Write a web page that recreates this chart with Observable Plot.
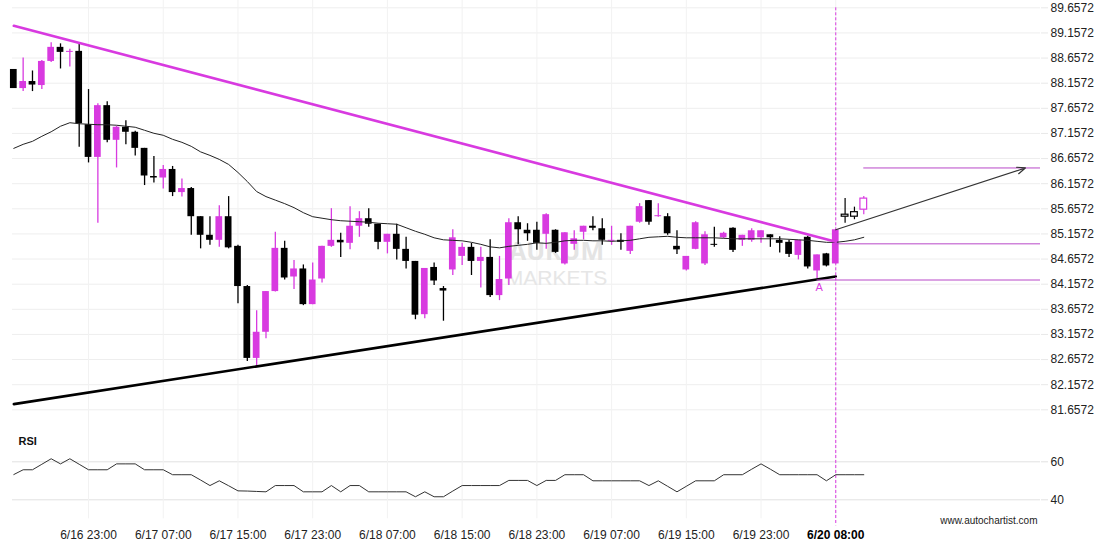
<!DOCTYPE html>
<html>
<head>
<meta charset="utf-8">
<script src="https://cdn.jsdelivr.net/npm/d3@7"></script>
<script src="https://cdn.jsdelivr.net/npm/@observablehq/plot@0.6"></script>
<style>
  html, body { margin: 0; padding: 0; background: #fff; }
  #chart { width: 1110px; height: 550px; position: relative; }
  #chart svg { display: block; }
</style>
</head>
<body>
<div id="chart"></div>
<script>
// ---------- DATA ----------
const opens = [88.43,88.05,88.19,88.11,88.59,88.87,88.77,88.79,87.33,86.68,
  87.71,87.02,87.28,87.18,86.86,86.30,86.27,86.44,85.98,86.06,
  85.50,85.13,85.03,85.50,84.91,84.11,82.68,83.20,84.01,84.87,
  84.30,84.46,83.75,84.26,84.91,85.03,84.97,85.31,85.46,85.35,
  84.99,85.15,84.85,84.61,83.55,84.49,84.07,84.44,84.71,84.89,
  84.61,84.69,83.93,84.26,85.38,85.23,85.23,85.15,85.23,84.56,
  84.95,85.19,85.31,85.26,85.01,85.03,84.81,85.39,85.82,85.50,
  85.50,84.91,84.44,84.85,84.56,84.95,85.08,85.27,85.03,85.03,
  85.08,85.14,85.03,84.99,84.73,85.09,84.42,84.76,84.56,85.54,
  85.59,85.64];
const closes = [88.05,88.19,88.12,88.59,88.87,88.77,88.79,87.35,86.68,87.71,
  87.02,87.28,87.18,86.86,86.31,86.27,86.44,85.98,86.06,85.50,
  85.13,85.03,85.50,84.88,84.11,82.68,83.20,84.01,84.87,84.28,
  84.46,83.75,84.24,84.91,85.03,84.98,85.31,85.46,85.35,84.99,
  85.15,84.85,84.61,83.54,84.47,84.22,84.02,85.08,84.89,84.61,
  84.69,83.93,84.25,85.38,85.24,85.16,84.97,85.54,84.79,85.18,
  85.06,85.31,85.27,85.03,85.03,84.99,85.31,85.70,85.39,85.52,
  85.16,84.84,84.71,85.38,85.14,84.93,85.17,84.83,85.13,85.22,
  85.22,85.08,84.97,84.75,85.03,84.50,84.74,84.52,85.24,85.50,
  85.50,85.86];
const highs = [88.43,88.66,88.40,88.61,88.96,88.94,88.83,88.96,88.03,87.75,
  87.79,87.30,87.41,87.20,86.86,86.70,86.52,86.50,86.25,86.08,
  85.50,85.50,85.72,85.90,84.93,84.13,83.63,84.01,85.19,85.01,
  84.63,84.54,84.58,84.91,85.66,85.17,85.70,85.60,85.66,85.35,
  85.15,85.35,85.09,84.61,84.47,84.58,84.11,85.24,84.97,84.97,
  84.89,85.04,84.71,85.46,85.50,85.36,85.39,85.56,85.24,85.18,
  85.22,85.31,85.50,85.46,85.31,85.16,85.31,85.76,85.82,85.76,
  85.56,85.22,84.71,85.40,85.20,85.29,85.19,85.28,85.13,85.26,
  85.22,85.14,85.10,85.03,85.03,85.11,84.74,84.77,85.24,85.86,
  85.69,85.90];
const lows = [88.05,87.99,87.99,88.03,88.57,88.44,88.48,86.88,86.57,85.37,
  86.97,86.47,86.93,86.71,86.12,86.17,86.05,85.90,85.89,85.13,
  84.86,84.93,84.89,84.86,83.77,82.62,82.51,83.07,84.00,84.24,
  84.05,83.73,83.75,84.18,84.89,84.69,84.84,85.09,85.29,84.84,
  84.76,84.64,84.46,83.45,83.47,84.13,83.42,84.33,84.53,84.33,
  84.08,83.89,83.83,84.13,84.94,85.01,84.83,84.85,84.77,84.54,
  84.83,85.04,85.22,84.93,84.93,84.83,84.75,85.37,85.33,85.49,
  85.13,84.75,84.42,84.84,84.53,84.89,85.06,84.79,84.91,84.99,
  84.97,84.89,84.78,84.69,84.64,84.46,84.26,84.50,84.56,85.37,
  85.44,85.54];
const movingAvg = [86.86,86.94,87.00,87.10,87.19,87.30,87.37,87.35,87.34,87.33,
  87.33,87.32,87.30,87.28,87.22,87.16,87.12,87.04,86.98,86.90,
  86.79,86.72,86.64,86.54,86.38,86.20,86.00,85.90,85.83,85.76,
  85.68,85.58,85.50,85.47,85.44,85.42,85.41,85.40,85.39,85.37,
  85.36,85.35,85.28,85.21,85.15,85.08,85.04,85.03,85.02,84.99,
  84.95,84.90,84.88,84.91,84.93,84.95,84.98,84.97,84.99,85.02,
  85.03,85.03,85.02,85.02,85.01,85.02,85.03,85.06,85.09,85.10,
  85.11,85.09,85.08,85.08,85.08,85.08,85.07,85.06,85.06,85.06,
  85.06,85.06,85.06,85.05,85.04,85.03,85.01,84.99,84.99,85.01,
  85.04,85.09];
const rsiValues = [53.3,55.8,55.8,58.7,61.6,58.9,61.6,58.7,55.8,55.8,
  55.8,58.9,58.9,58.9,55.8,55.8,55.8,53.2,53.2,53.2,
  50.4,47.5,50.0,47.4,44.7,44.6,44.4,44.2,47.5,47.5,
  47.5,44.2,44.2,44.2,47.5,44.2,47.5,47.5,44.2,44.2,
  44.2,44.2,44.2,41.6,44.2,41.6,41.6,44.6,47.5,47.5,
  47.5,47.5,47.5,50.2,50.2,50.2,47.5,50.2,50.2,53.2,
  53.2,53.2,50.0,50.0,50.0,50.0,50.0,50.0,47.5,50.0,
  47.1,44.2,47.1,50.0,50.0,50.0,53.2,53.2,53.2,56.1,
  58.9,56.1,53.2,53.2,53.2,53.2,53.2,50.0,53.2,53.2,
  53.2,53.2];

const tickIdx    = [8, 16, 24, 32, 40, 48, 56, 64, 72, 80, 88];
const tickLabels = ["6/16 23:00","6/17 07:00","6/17 15:00","6/17 23:00","6/18 07:00",
  "6/18 15:00","6/18 23:00","6/19 07:00","6/19 15:00","6/19 23:00","6/20 08:00"];
const priceTicks = [81.6572,82.1572,82.6572,83.1572,83.6572,84.1572,84.6572,85.1572,
  85.6572,86.1572,86.6572,87.1572,87.6572,88.1572,88.6572,89.1572,89.6572];
const rsiTicks = [40, 60];

const breakoutIdx = 88;          // candle where the pattern completes
const pointAIdx = 86;            // "A" point on support
const resistanceLine = [{i: 0, v: 89.30}, {i: 88, v: 85.00}];
const supportLine    = [{i: 0, v: 81.77}, {i: 88, v: 84.31}];
const levelBreak  = [84.96];
const levelLow    = [84.24];
const levelTarget = [86.47];
const forecastArrow = [{i1: 88, v1: 85.24, i2: 108.3, v2: 86.47}];
const targetStartIdx = 91;

// ---------- BUILD ----------
const MAG = "#d83ae0";
const LEVEL = "#b848c8";
const FONT = "'Liberation Sans', Arial, Helvetica, sans-serif";
const xDomain = [-0.14, 109.92];

const candles = opens.map((o, i) => ({
  i, open: o, close: closes[i], high: highs[i], low: lows[i],
  up: closes[i] > o, after: i > breakoutIdx
}));
const solidUp = candles.filter(d => !d.after && d.up);
const solidDown = candles.filter(d => !d.after && !d.up);
const hollowUp = candles.filter(d => d.after && d.up);
const hollowDown = candles.filter(d => d.after && !d.up);
const maData = movingAvg.map((v, i) => ({i, v}));
const rsiData = rsiValues.map((v, i) => ({i, v}));
const hw = 0.36;
const bx1 = d => d.i - hw, bx2 = d => d.i + hw;

const main = Plot.plot({
  width: 1110, height: 420,
  marginLeft: 12, marginRight: 70, marginTop: 7.3, marginBottom: 10.7,
  x: {type: "linear", domain: xDomain, axis: null},
  y: {domain: [81.6572, 89.6572], axis: null},
  style: {fontFamily: FONT, fontSize: "12px", color: "#222", background: "#fff", overflow: "visible"},
  marks: [
    Plot.gridY(priceTicks, {stroke: "#eeeeee", strokeOpacity: 1}),
    Plot.ruleX(tickIdx, {stroke: "#f2f2f2", insetTop: -7.3, insetBottom: -10.7}),
    Plot.axisY(priceTicks, {anchor: "right", label: null, tickSize: 7, tickPadding: 3, stroke: "#e8e8e8",
      fill: "#222", fontSize: 12, tickFormat: d => d.toFixed(4)}),
    Plot.text(["AURUM"], {frameAnchor: "middle", dx: 30, dy: 43, fontSize: 25, fontWeight: "bold",
      fill: "#e4e4e4", fontFamily: "'Open Sans', " + FONT}),
    Plot.text(["MARKETS"], {frameAnchor: "middle", dx: 30, dy: 69, fontSize: 21,
      fill: "#e6e6e6", fontFamily: "'Liberation Sans Narrow', " + FONT}),
    // wicks
    Plot.ruleX(solidUp, {x: "i", y1: "low", y2: "high", stroke: MAG, strokeWidth: 1.3}),
    Plot.ruleX(solidDown, {x: "i", y1: "low", y2: "high", stroke: "#000", strokeWidth: 1.3}),
    Plot.ruleX(hollowUp, {x: "i", y1: "low", y2: "high", stroke: MAG, strokeWidth: 1.2}),
    Plot.ruleX(hollowDown, {x: "i", y1: "low", y2: "high", stroke: "#000", strokeWidth: 1.2}),
    // bodies
    Plot.rect(solidUp, {x1: bx1, x2: bx2, y1: "open", y2: "close", fill: MAG}),
    Plot.rect(solidDown, {x1: bx1, x2: bx2, y1: "open", y2: "close", fill: "#000"}),
    Plot.rect(hollowUp, {x1: bx1, x2: bx2, y1: "open", y2: "close", fill: "#fff", stroke: MAG, strokeWidth: 1.2}),
    Plot.rect(hollowDown, {x1: bx1, x2: bx2, y1: "open", y2: "close", fill: "#fff", stroke: "#000", strokeWidth: 1.2}),
    // moving average
    Plot.line(maData, {x: "i", y: "v", stroke: "#222", strokeWidth: 1}),
    // trend lines
    Plot.line(resistanceLine, {x: "i", y: "v", stroke: MAG, strokeWidth: 2.6}),
    Plot.line(supportLine, {x: "i", y: "v", stroke: "#000", strokeWidth: 2.6}),
    // levels
    Plot.ruleY(levelBreak, {x1: breakoutIdx, x2: xDomain[1], stroke: LEVEL, strokeWidth: 1}),
    Plot.ruleY(levelLow, {x1: pointAIdx, x2: xDomain[1], stroke: LEVEL, strokeWidth: 1}),
    Plot.ruleY(levelTarget, {x1: targetStartIdx, x2: xDomain[1], stroke: LEVEL, strokeWidth: 1}),
    // breakout marker
    Plot.ruleX([breakoutIdx], {stroke: MAG, strokeWidth: 1, strokeDasharray: "3,2", insetBottom: -10.7}),
    Plot.arrow(forecastArrow, {x1: "i1", y1: "v1", x2: "i2", y2: "v2", stroke: "#333",
      strokeWidth: 1.2, headLength: 11, headAngle: 45}),
    Plot.text([candles[pointAIdx]], {x: "i", y: "low", text: () => "A", dy: 8, dx: 2,
      fill: MAG, fontSize: 11})
  ]
});

const rsi = Plot.plot({
  width: 1110, height: 130,
  marginLeft: 12, marginRight: 70, marginTop: 22.3, marginBottom: 31.7,
  x: {type: "linear", domain: xDomain, axis: null},
  y: {domain: [30, 70], axis: null},
  style: {fontFamily: FONT, fontSize: "12px", color: "#222", background: "#fff", overflow: "visible"},
  marks: [
    Plot.gridY(rsiTicks, {stroke: "#e2e2e2", strokeOpacity: 1}),
    Plot.ruleX(tickIdx, {stroke: "#f2f2f2", insetTop: -22.3}),
    Plot.axisY(rsiTicks, {anchor: "right", label: null, tickSize: 7, tickPadding: 3, stroke: "#e2e2e2",
      fill: "#222", fontSize: 12}),
    Plot.axisX(tickIdx.filter(t => t !== breakoutIdx), {label: null, tickSize: 0, tickPadding: 12,
      fill: "#222", fontSize: 12, tickFormat: d => tickLabels[tickIdx.indexOf(d)]}),
    Plot.axisX([breakoutIdx], {label: null, tickSize: 0, tickPadding: 12, fill: "#000", fontSize: 12,
      fontWeight: "bold", tickFormat: d => tickLabels[tickIdx.indexOf(d)]}),
    Plot.ruleX([breakoutIdx], {stroke: MAG, strokeWidth: 1, strokeDasharray: "3,2",
      insetTop: -22.3, insetBottom: -7}),
    Plot.line(rsiData, {x: "i", y: "v", stroke: "#333", strokeWidth: 1}),
    Plot.text(["RSI"], {frameAnchor: "top-left", dx: 6, dy: -5.3, textAnchor: "start",
      fontWeight: "bold", fontSize: 11, fill: "#111"}),
    Plot.text(["www.autochartist.com"], {frameAnchor: "bottom-right", dx: -3, dy: 5,
      textAnchor: "end", fontSize: 10, fill: "#222"})
  ]
});

const el = document.getElementById("chart");
el.appendChild(main);
el.appendChild(rsi);
</script>
</body>
</html>
